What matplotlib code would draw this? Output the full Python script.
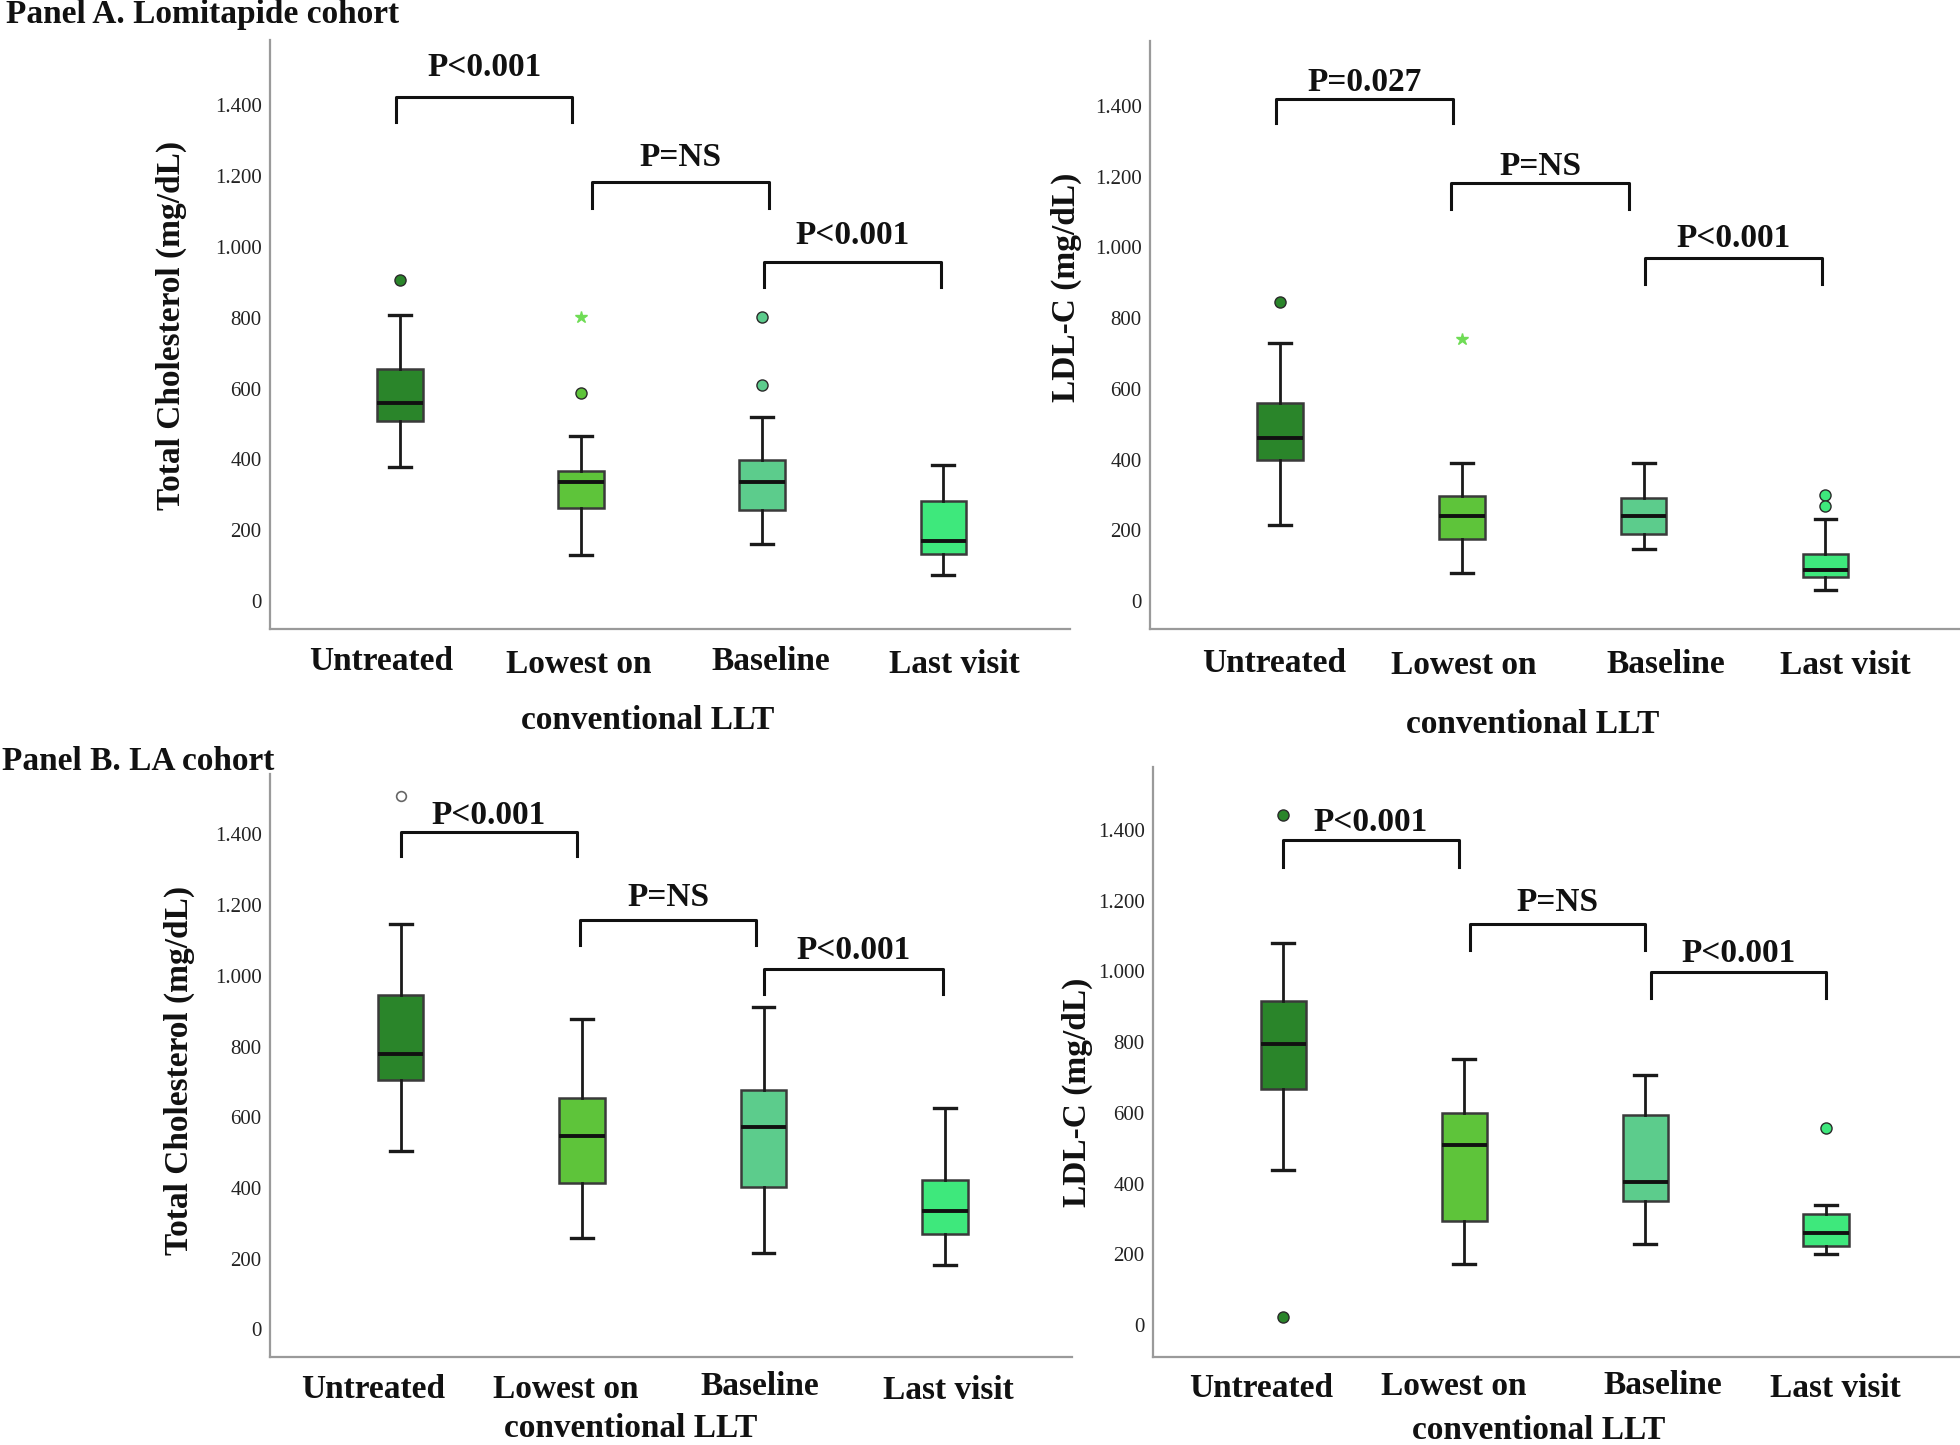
import matplotlib
matplotlib.use('Agg')
import matplotlib.pyplot as plt
import matplotlib.transforms as mtransforms
from matplotlib.ticker import FixedLocator, FuncFormatter

# ---------------- data ----------------
categories = ['Untreated', 'Lowest on', 'Baseline', 'Last visit']
category_sublabel = 'conventional LLT'
box_colors = ['#2a852a', '#5ec43a', '#5ccc8c', '#3ee87c']
yticks = [0, 200, 400, 600, 800, 1000, 1200, 1400]

# Panel A, Total Cholesterol (Lomitapide cohort)
a_tc_whislo = [377, 131, 162, 74]
a_tc_q1 = [507, 264, 257, 134]
a_tc_med = [560, 337, 337, 169]
a_tc_q3 = [655, 367, 398, 281]
a_tc_whishi = [808, 467, 520, 384]
a_tc_outliers = [[905], [587], [802, 610], []]
a_tc_extremes = [[], [802], [], []]
a_tc_pvals = ['P<0.001', 'P=NS', 'P<0.001']

# Panel A, LDL-C (Lomitapide cohort)
a_ldl_whislo = [215, 80, 146, 31]
a_ldl_q1 = [398, 176, 190, 69]
a_ldl_med = [462, 241, 241, 89]
a_ldl_q3 = [560, 298, 291, 134]
a_ldl_whishi = [730, 390, 390, 232]
a_ldl_outliers = [[847], [], [], [299, 268]]
a_ldl_extremes = [[], [741], [], []]
a_ldl_pvals = ['P=0.027', 'P=NS', 'P<0.001']

# Panel B, Total Cholesterol (LA cohort)
b_tc_whislo = [505, 258, 215, 181]
b_tc_q1 = [705, 413, 403, 270]
b_tc_med = [779, 547, 573, 336]
b_tc_q3 = [945, 655, 678, 424]
b_tc_whishi = [1148, 878, 912, 627]
b_tc_outliers = [[], [], [], []]
b_tc_open_outliers = [[1508], [], [], []]
b_tc_extremes = [[], [], [], []]
b_tc_pvals = ['P<0.001', 'P=NS', 'P<0.001']

# Panel B, LDL-C (LA cohort)
b_ldl_whislo = [438, 174, 230, 201]
b_ldl_q1 = [667, 295, 350, 223]
b_ldl_med = [794, 509, 405, 260]
b_ldl_q3 = [916, 601, 595, 314]
b_ldl_whishi = [1081, 753, 706, 340]
b_ldl_outliers = [[1441, 24], [], [], [557]]
b_ldl_extremes = [[], [], [], []]
b_ldl_pvals = ['P<0.001', 'P=NS', 'P<0.001']

SERIF = ['Liberation Serif', 'DejaVu Serif']

fig = plt.figure(figsize=(19.6, 14.45), dpi=100)
W, H = 1960.0, 1445.0


def rect(x0, x1, ytop, ybot):
    return [x0 / W, 1 - ybot / H, (x1 - x0) / W, (ybot - ytop) / H]


def draw_panel(r, xlim, ylim, whislo, q1, med, q3, whishi, outliers, extremes,
               pvals, brackets, label_pos, sub_pos, open_outliers=None):
    ax = fig.add_axes(r)
    stats = []
    for i in range(4):
        stats.append(dict(med=med[i], q1=q1[i], q3=q3[i], whislo=whislo[i],
                          whishi=whishi[i], fliers=[]))
    bp = ax.bxp(stats, positions=range(4), widths=0.25, capwidths=0.12,
                patch_artist=True, showfliers=False,
                boxprops=dict(edgecolor='#3a3a3a', linewidth=1.8),
                whiskerprops=dict(color='#1a1a1a', linewidth=2.0),
                capprops=dict(color='#1a1a1a', linewidth=2.4),
                medianprops=dict(color='#111111', linewidth=2.8))
    for patch, c in zip(bp['boxes'], box_colors):
        patch.set_facecolor(c)
    for i in range(4):
        if outliers[i]:
            ax.plot([i] * len(outliers[i]), outliers[i], linestyle='none',
                    marker='o', markersize=8, markerfacecolor=box_colors[i],
                    markeredgecolor='#2a2a2a', markeredgewidth=1.0, zorder=5)
        if extremes[i]:
            ax.plot([i] * len(extremes[i]), extremes[i], linestyle='none',
                    marker='*', markersize=9, color='#6fdc55', zorder=5)
        if open_outliers and open_outliers[i]:
            ax.plot([i] * len(open_outliers[i]), open_outliers[i], linestyle='none',
                    marker='o', markersize=7, markerfacecolor='white',
                    markeredgecolor='#666666', markeredgewidth=1.2, zorder=5)
    # significance brackets
    for (x0, x1, top, leg, ty), lab in zip(brackets, pvals):
        ax.plot([x0, x0, x1, x1], [leg, top, top, leg], color='#111111',
                linewidth=2.2, solid_joinstyle='round', clip_on=False)
        ax.text((x0 + x1) / 2, ty, lab, ha='center', va='center',
                fontsize=24, fontweight='bold', family=SERIF, color='#111111')
    ax.set_xlim(*xlim)
    ax.set_ylim(*ylim)
    ax.yaxis.set_major_locator(FixedLocator(yticks))
    ax.yaxis.set_major_formatter(FuncFormatter(lambda v, p: f"{int(v):,}".replace(',', '.')))
    ax.tick_params(axis='y', length=0, pad=6, labelsize=15, labelcolor='#222222')
    for t in ax.get_yticklabels():
        t.set_family(SERIF)
    ax.set_xticks([])
    for s in ['top', 'right']:
        ax.spines[s].set_visible(False)
    for s in ['left', 'bottom']:
        ax.spines[s].set_color('#9a9a9a')
        ax.spines[s].set_linewidth(1.6)
    trans = mtransforms.blended_transform_factory(ax.transData, ax.transAxes)
    for (x, y), lab in zip(label_pos, categories):
        ax.text(x, y, lab, transform=trans, ha='center', va='center',
                fontsize=24, fontweight='bold', family=SERIF, color='#111111',
                clip_on=False)
    ax.text(sub_pos[0], sub_pos[1], category_sublabel, transform=trans,
            ha='center', va='center', fontsize=24, fontweight='bold',
            family=SERIF, color='#111111', clip_on=False)
    return ax


# Panel A left
draw_panel(rect(270, 1070, 40, 629), (-0.717, 3.70), (-79, 1584),
           a_tc_whislo, a_tc_q1, a_tc_med, a_tc_q3, a_tc_whishi,
           a_tc_outliers, a_tc_extremes, a_tc_pvals,
           [(-0.02, 0.95, 1424, 1353, 1505), (1.06, 2.04, 1184, 1110, 1251),
            (2.01, 2.99, 958, 887, 1032)],
           [(-0.105, -0.056), (0.99, -0.060), (2.05, -0.056), (3.06, -0.060)],
           (1.37, -0.156))

# Panel A right
draw_panel(rect(1150, 1960, 41, 629), (-0.715, 3.74), (-79, 1584),
           a_ldl_whislo, a_ldl_q1, a_ldl_med, a_ldl_q3, a_ldl_whishi,
           a_ldl_outliers, a_ldl_extremes, a_ldl_pvals,
           [(-0.02, 0.95, 1421, 1351, 1467), (0.94, 1.92, 1181, 1110, 1228),
            (2.01, 2.98, 970, 897, 1025)],
           [(-0.03, -0.059), (1.01, -0.062), (2.12, -0.060), (3.11, -0.062)],
           (1.39, -0.163))

# Panel B left
draw_panel(rect(270, 1072, 774, 1357), (-0.72, 3.70), (-78, 1571),
           b_tc_whislo, b_tc_q1, b_tc_med, b_tc_q3, b_tc_whishi,
           b_tc_outliers, b_tc_extremes, b_tc_pvals,
           [(0.0, 0.97, 1408, 1338, 1453), (0.99, 1.96, 1158, 1086, 1221),
            (2.0, 2.99, 1020, 948, 1071)],
           [(-0.15, -0.055), (0.91, -0.055), (1.98, -0.051), (3.02, -0.057)],
           (1.27, -0.123), open_outliers=b_tc_open_outliers)

# Panel B right
draw_panel(rect(1153, 1960, 767, 1357), (-0.72, 3.74), (-90, 1578),
           b_ldl_whislo, b_ldl_q1, b_ldl_med, b_ldl_q3, b_ldl_whishi,
           b_ldl_outliers, b_ldl_extremes, b_ldl_pvals,
           [(0.0, 0.97, 1371, 1295, 1421), (1.03, 2.0, 1135, 1062, 1196),
            (2.03, 3.0, 999, 926, 1050)],
           [(-0.12, -0.054), (0.94, -0.050), (2.10, -0.048), (3.05, -0.054)],
           (1.41, -0.125))

# Y-axis labels
ylab_kw = dict(rotation=90, ha='center', va='center', fontsize=24,
               fontweight='bold', family=SERIF, color='#111111')
fig.text(171 / W, 1 - 325 / H, 'Total Cholesterol (mg/dL)', **ylab_kw)
fig.text(1066 / W, 1 - 287 / H, 'LDL-C (mg/dL)', **ylab_kw)
fig.text(179 / W, 1 - 1070 / H, 'Total Cholesterol (mg/dL)', **ylab_kw)
fig.text(1077 / W, 1 - 1092 / H, 'LDL-C (mg/dL)', **ylab_kw)

# Panel titles
fig.text(6 / W, 1 - 14 / H, 'Panel A. Lomitapide cohort', ha='left', va='center',
         fontsize=24, fontweight='bold', family=SERIF, color='#111111')
fig.text(2 / W, 1 - 762 / H, 'Panel B. LA cohort', ha='left', va='center',
         fontsize=24, fontweight='bold', family=SERIF, color='#111111')

fig.savefig('out.png', dpi=100, facecolor='white')
